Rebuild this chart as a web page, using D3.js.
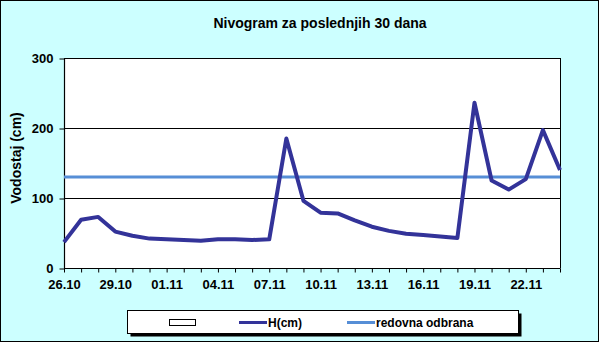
<!DOCTYPE html>
<html>
<head>
<meta charset="utf-8">
<script src="https://cdnjs.cloudflare.com/ajax/libs/d3/7.8.5/d3.min.js"></script>
<style>
    body { margin: 0; background: #fff; }
    text { font-family: "Liberation Sans", Arial, sans-serif; font-weight: bold; fill: #000; }
</style>
</head>
<body>
<svg id="chart"></svg>

<script>

    var width = 600,
        height = 343;

    // days on the x axis (one point per day)
    var days = ["26.10","27.10","28.10","29.10","30.10","31.10","01.11","02.11","03.11","04.11",
                "05.11","06.11","07.11","08.11","09.11","10.11","11.11","12.11","13.11","14.11",
                "15.11","16.11","17.11","18.11","19.11","20.11","21.11","22.11","23.11","24.11"];

    // water level H(cm)
    var hValues = [37, 69, 73, 52, 46, 42, 41, 40, 39, 41,
                   41, 40, 41, 185, 96, 79, 78, 68, 59, 53,
                   49, 47, 45, 43, 236, 125, 112, 127, 197, 140];

    // regular flood defence level
    var redovna = [130, 130];

    var yTicks = [0, 100, 200, 300];

    var plot = {left: 64, top: 58, right: 560, bottom: 268};

    var svg = d3.select("#chart")
        .attr("width", width)
        .attr("height", height);

    // chart background and frame
    svg.append("rect")
        .attr("x", 0.5).attr("y", 0.5)
        .attr("width", width - 2).attr("height", height - 2)
        .style("fill", "#ccffff")
        .style("stroke", "#000")
        .style("stroke-width", 1);

    svg.append("rect")
        .attr("x", plot.left).attr("y", plot.top)
        .attr("width", plot.right - plot.left).attr("height", plot.bottom - plot.top)
        .style("fill", "#fff");

    var x = d3.scalePoint()
        .domain(days)
        .range([plot.left, plot.right]);

    var y = d3.scaleLinear()
        .domain([0, 300])
        .range([plot.bottom, plot.top]);

    // gridlines
    svg.append("g")
        .selectAll("line")
        .data(yTicks.slice(1))
        .enter().append("line")
        .attr("x1", plot.left).attr("x2", plot.right)
        .attr("y1", function(d) { return y(d) + 0.5; })
        .attr("y2", function(d) { return y(d) + 0.5; })
        .style("stroke", "#000")
        .style("stroke-width", 1);

    // right border of the plot area
    svg.append("line")
        .attr("x1", plot.right + 0.5).attr("x2", plot.right + 0.5)
        .attr("y1", plot.top).attr("y2", plot.bottom)
        .style("stroke", "#000");

    var yAxis = svg.append("g")
        .attr("transform", "translate(" + (plot.left + 0.5) + ",0.5)")
        .call(d3.axisLeft(y).tickValues(yTicks).tickSize(5).tickPadding(6));

    var xAxis = svg.append("g")
        .attr("transform", "translate(0," + (plot.bottom + 0.5) + ")")
        .call(d3.axisBottom(x).tickSize(4).tickPadding(7)
            .tickFormat(function(d, i) { return i % 3 === 0 ? d : ""; }));

    [xAxis, yAxis].forEach(function(a) {
        a.select(".domain").style("stroke", "#000").style("stroke-width", 1.2);
        a.selectAll(".tick line").style("stroke", "#000");
        a.selectAll("text")
            .style("font-family", "'Liberation Sans', Arial, sans-serif")
            .style("font-size", "13px")
            .style("font-weight", "bold")
            .style("fill", "#000");
    });
    xAxis.select(".domain").attr("d", "M" + plot.left + ",0H" + (plot.right + 0.5));
    yAxis.select(".domain").attr("d", "M0," + y(300) + "V" + y(0));

    // redovna odbrana
    svg.append("line")
        .attr("x1", plot.left).attr("x2", plot.right)
        .attr("y1", y(redovna[0])).attr("y2", y(redovna[1]))
        .style("stroke", "#568ed6")
        .style("stroke-width", 3);

    // water level line
    var line = d3.line()
        .x(function(d, i) { return x(days[i]); })
        .y(function(d) { return y(d); });

    svg.append("path")
        .datum(hValues)
        .attr("d", line)
        .style("fill", "none")
        .style("stroke", "#333399")
        .style("stroke-width", 4)
        .style("stroke-linejoin", "round");

    // titles
    svg.append("text")
        .attr("x", 320).attr("y", 28)
        .attr("text-anchor", "middle")
        .style("font-size", "14px")
        .text("Nivogram za poslednjih 30 dana");

    svg.append("text")
        .attr("transform", "translate(21,158) rotate(-90)")
        .attr("text-anchor", "middle")
        .style("font-size", "14px")
        .text("Vodostaj (cm)");

    // legend
    var legend = svg.append("g");
    legend.append("rect")
        .attr("x", 130.5).attr("y", 313.5)
        .attr("width", 391).attr("height", 23)
        .style("fill", "#000");
    legend.append("rect")
        .attr("x", 127.5).attr("y", 310.5)
        .attr("width", 391).attr("height", 23)
        .style("fill", "#fff")
        .style("stroke", "#000");

    legend.append("rect")
        .attr("x", 169.5).attr("y", 319.5)
        .attr("width", 26).attr("height", 6)
        .style("fill", "#fff")
        .style("stroke", "#000");

    var legendItems = [
        {label: "H(cm)", color: "#333399", x: 239},
        {label: "redovna odbrana", color: "#568ed6", x: 347}
    ];
    legendItems.forEach(function(d) {
        legend.append("line")
            .attr("x1", d.x).attr("x2", d.x + 28)
            .attr("y1", 322.5).attr("y2", 322.5)
            .style("stroke", d.color)
            .style("stroke-width", 3);
        legend.append("text")
            .attr("x", d.x + 29).attr("y", 327)
            .style("font-size", "12px")
            .text(d.label);
    });

</script>

</body>
</html>
